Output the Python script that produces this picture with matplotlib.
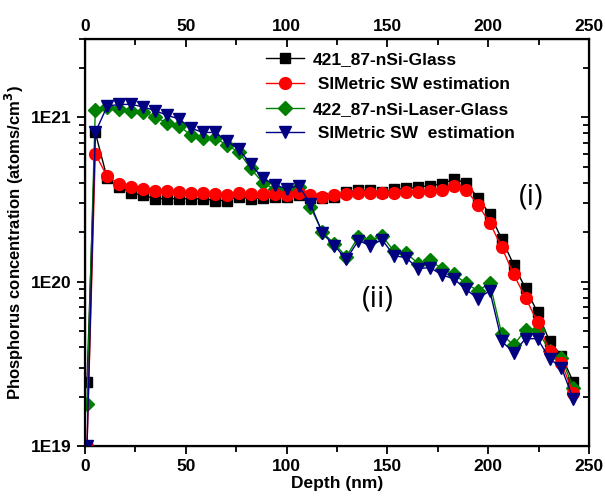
import numpy as np
import matplotlib
matplotlib.use("Agg")
import matplotlib.pyplot as plt
from matplotlib.ticker import LogLocator, FixedLocator, NullFormatter

plt.rcParams['font.family'] = ['Liberation Sans', 'DejaVu Sans']

# Depth of each SIMS point (nm)
depth = [1.0, 5.1, 11.0, 17.0, 22.9, 28.8, 34.8, 40.7, 46.6, 52.5, 58.5, 64.4,
         70.3, 76.3, 82.2, 88.1, 94.0, 100.0, 105.9, 111.8, 117.8, 123.7, 129.6,
         135.6, 141.5, 147.4, 153.3, 159.3, 165.2, 171.1, 177.0, 183.0, 188.9,
         194.8, 200.8, 206.7, 212.6, 218.5, 224.5, 230.4, 236.3, 242.2]

# 421_87-nSi-Glass (measured)
glass = [2.45e19, 8.1e20, 4.26e20, 3.76e20, 3.48e20, 3.35e20, 3.2e20, 3.2e20,
         3.2e20, 3.2e20, 3.2e20, 3.12e20, 3.12e20, 3.3e20, 3.2e20, 3.24e20,
         3.27e20, 3.3e20, 3.35e20, 3.25e20, 3.25e20, 3.3e20, 3.5e20, 3.6e20,
         3.6e20, 3.5e20, 3.65e20, 3.7e20, 3.75e20, 3.85e20, 3.95e20, 4.2e20,
         4.0e20, 3.25e20, 2.58e20, 1.82e20, 1.27e20, 9.1e19, 6.5e19, 4.35e19,
         3.55e19, 2.45e19]

# SIMetric SW estimation for glass sample
glass_est = [1.0e19, 6.0e20, 4.37e20, 3.94e20, 3.76e20, 3.67e20, 3.56e20, 3.55e20,
             3.5e20, 3.48e20, 3.48e20, 3.43e20, 3.35e20, 3.48e20, 3.43e20, 3.43e20,
             3.4e20, 3.35e20, 3.45e20, 3.35e20, 3.3e20, 3.35e20, 3.43e20, 3.48e20,
             3.48e20, 3.45e20, 3.48e20, 3.5e20, 3.52e20, 3.55e20, 3.6e20, 3.85e20,
             3.64e20, 2.95e20, 2.28e20, 1.62e20, 1.11e20, 8.0e19, 5.65e19, 3.8e19,
             3.2e19, 2.1e19]

# 422_87-nSi-Laser-Glass (measured)
laser = [1.8e19, 1.11e21, 1.15e21, 1.13e21, 1.1e21, 1.08e21, 1.0e21, 9.3e20,
         8.9e20, 7.8e20, 7.5e20, 7.5e20, 6.8e20, 6.15e20, 4.9e20, 4.0e20,
         3.67e20, 3.6e20, 3.75e20, 2.85e20, 2.0e20, 1.7e20, 1.42e20, 1.88e20,
         1.78e20, 1.9e20, 1.53e20, 1.5e20, 1.29e20, 1.35e20, 1.2e20, 1.11e20,
         9.8e19, 8.8e19, 9.8e19, 4.8e19, 4.1e19, 5.1e19, 5.05e19, 3.8e19,
         3.45e19, 2.25e19]

# SIMetric SW estimation for laser sample
laser_est = [1.0e19, 8.1e20, 1.17e21, 1.2e21, 1.2e21, 1.16e21, 1.1e21, 1.03e21,
             9.8e20, 8.6e20, 8.1e20, 8.1e20, 7.2e20, 6.4e20, 5.2e20, 4.26e20,
             3.9e20, 3.67e20, 3.85e20, 2.98e20, 1.97e20, 1.66e20, 1.37e20, 1.78e20,
             1.66e20, 1.8e20, 1.44e20, 1.4e20, 1.2e20, 1.22e20, 1.1e20, 1.04e20,
             9.0e19, 7.9e19, 8.8e19, 4.35e19, 3.7e19, 4.5e19, 4.5e19, 3.4e19,
             3.0e19, 1.93e19]

fig = plt.figure(figsize=(6.05, 4.97), dpi=100)
ax = fig.add_axes([0.1405, 0.1026, 0.8331, 0.8189])

ax.plot(depth, glass, color='black', marker='s', ms=7, lw=1,
        label='421_87-nSi-Glass', zorder=3)
ax.plot(depth, glass_est, color='red', marker='o', ms=8.5, lw=1,
        label=' SIMetric SW estimation', zorder=4)
ax.plot(depth, laser, color='green', marker='D', ms=7, lw=1,
        label='422_87-nSi-Laser-Glass', zorder=3)
ax.plot(depth, laser_est, color='#000080', marker='v', ms=9, lw=1,
        label=' SIMetric SW  estimation', zorder=4)

ax.set_yscale('log')
ax.set_xlim(0, 250)
ax.set_ylim(1e19, 3e21)

ax.set_xticks([0, 50, 100, 150, 200, 250])
ax.xaxis.set_minor_locator(FixedLocator([25, 75, 125, 175, 225]))
ax.set_yticks([1e19, 1e20, 1e21])
ax.set_yticklabels(['1E19', '1E20', '1E21'])
ax.yaxis.set_minor_locator(LogLocator(base=10, subs=np.arange(2, 10)))
ax.yaxis.set_minor_formatter(NullFormatter())

ax.tick_params(which='both', direction='out', width=1.3, labelsize=12.5)
ax.tick_params(which='major', length=6)
ax.tick_params(which='minor', length=4)
for lab in ax.get_xticklabels() + ax.get_yticklabels():
    lab.set_fontweight('bold')

for sp in ax.spines.values():
    sp.set_linewidth(1.6)

# top axis with labels, ticks inward
axt = ax.twiny()
axt.set_xlim(0, 250)
axt.set_xticks([0, 50, 100, 150, 200, 250])
axt.xaxis.set_minor_locator(FixedLocator([25, 75, 125, 175, 225]))
axt.tick_params(which='both', direction='in', width=1.3, labelsize=12.5)
axt.tick_params(which='major', length=6)
axt.tick_params(which='minor', length=4)
for lab in axt.get_xticklabels():
    lab.set_fontweight('bold')

# right axis, ticks only
axr = ax.twinx()
axr.set_yscale('log')
axr.set_ylim(1e19, 3e21)
axr.yaxis.set_minor_locator(LogLocator(base=10, subs=np.arange(2, 10)))
axr.tick_params(which='both', direction='in', width=1.3, labelright=False)
axr.tick_params(which='major', length=6)
axr.tick_params(which='minor', length=4)

ax.set_xlabel('Depth (nm)', fontsize=12.5, fontweight='bold', labelpad=1)
ax.set_ylabel('Phosphorus concentration (atoms/cm$^\\mathbf{3}$)', fontsize=12,
              fontweight='bold', labelpad=4)

ax.legend(loc='upper left', bbox_to_anchor=(0.345, 0.985), frameon=False,
          prop={'weight': 'bold', 'size': 12.5}, handlelength=2.2,
          handletextpad=0.5, labelspacing=0.55, borderaxespad=0.0)

ax.text(215, 3.3e20, '(i)', fontsize=21, family='Open Sans', ha='left', va='center')
ax.text(137.5, 7.9e19, '(ii)', fontsize=21, family='Open Sans', ha='left', va='center')

fig.savefig('out.png', dpi=100)
